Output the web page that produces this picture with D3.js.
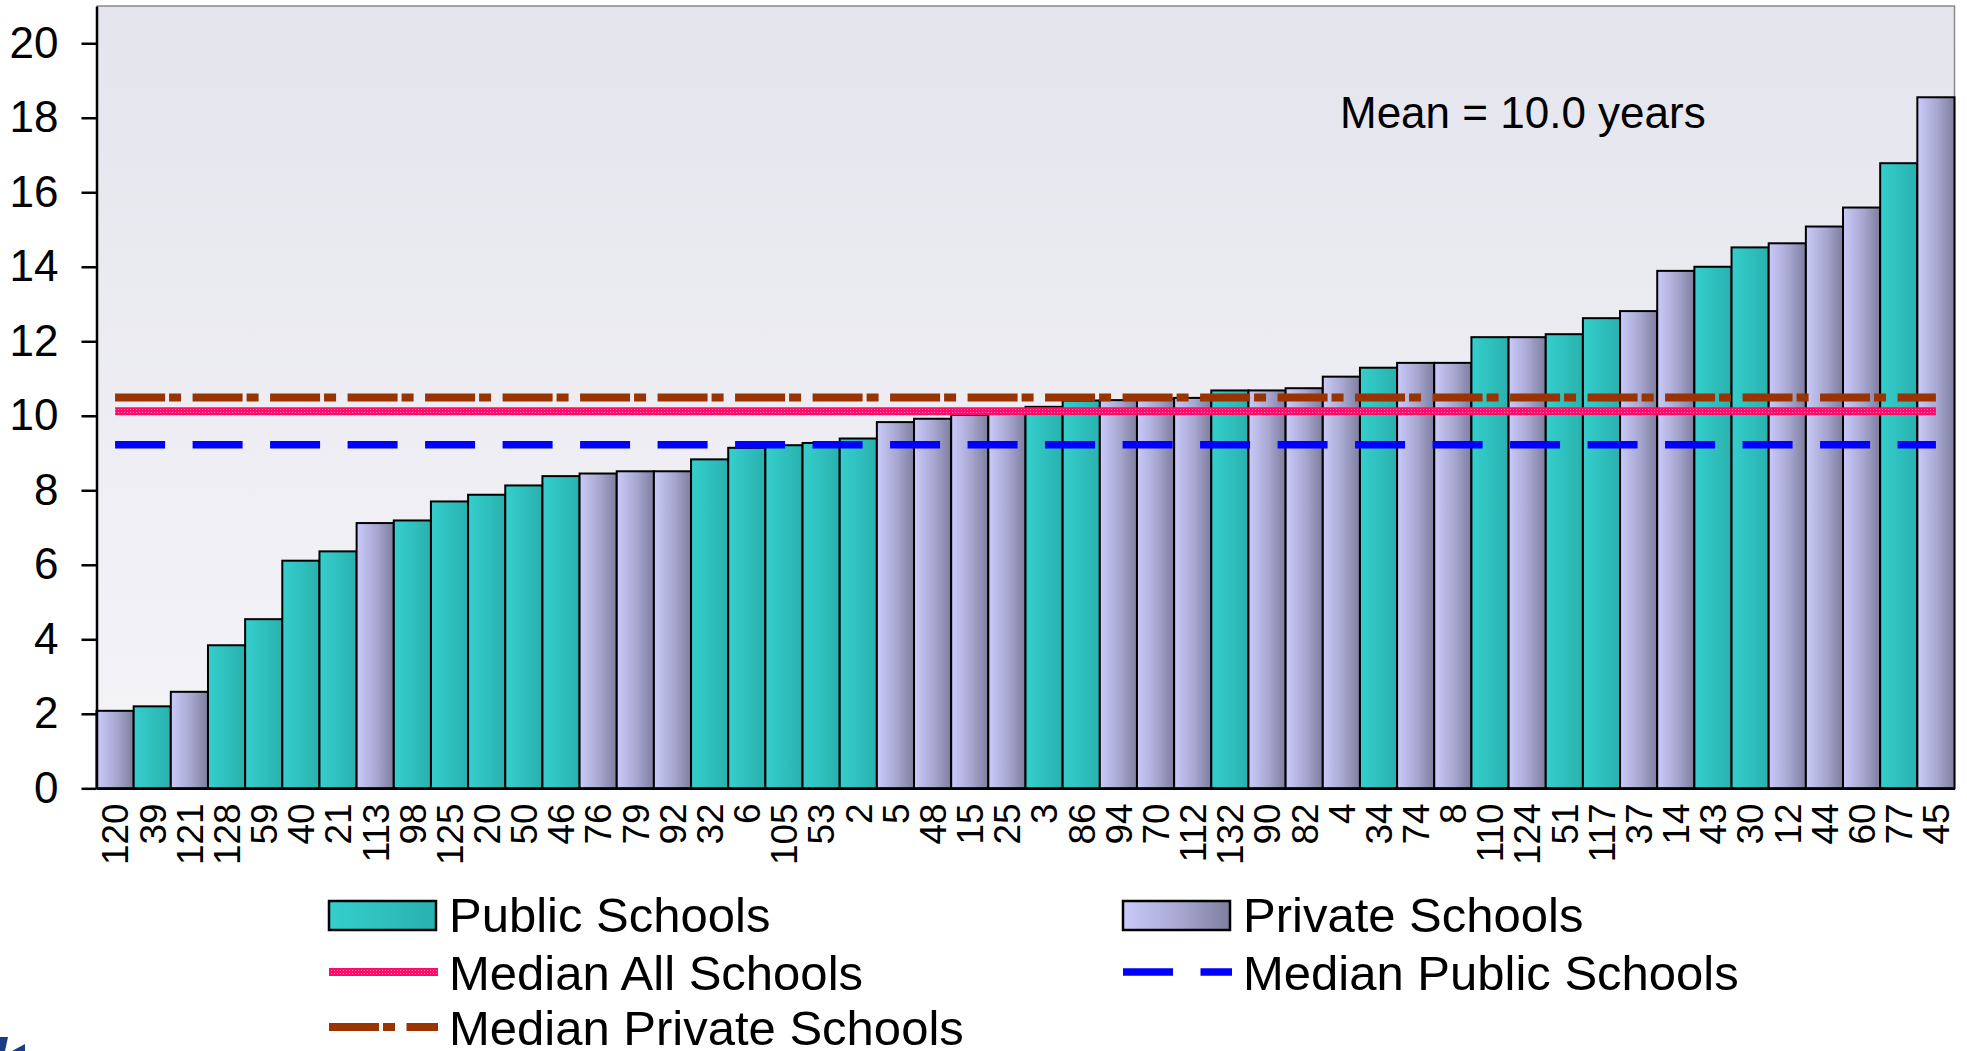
<!DOCTYPE html>
<html>
<head>
<meta charset="utf-8">
<script src="https://cdn.jsdelivr.net/npm/d3@7"></script>
<style>
  html, body { margin: 0; padding: 0; background: #ffffff; }
  svg { display: block; font-family: "Liberation Sans", Arial, Helvetica, sans-serif; }
</style>
</head>
<body>
<svg id="chart" width="1967" height="1051"></svg>
<script>
// School identifiers, ordered by years
const schools = ["120","39","121","128","59","40","21","113","98","125",
                 "20","50","46","76","79","92","32","6","105","53",
                 "2","5","48","15","25","3","86","94","70","112",
                 "132","90","82","4","34","74","8","110","124","51",
                 "117","37","14","43","30","12","44","60","77","45"];
const years = [2.08, 2.20, 2.59, 3.84, 4.54, 6.11, 6.36, 7.12, 7.19, 7.70,
               7.88, 8.13, 8.38, 8.45, 8.51, 8.51, 8.83, 9.14, 9.21, 9.27,
               9.39, 9.83, 9.92, 10.02, 10.12, 10.24, 10.41, 10.42, 10.46, 10.48,
               10.68, 10.68, 10.74, 11.05, 11.29, 11.42, 11.42, 12.11, 12.11, 12.19,
               12.62, 12.81, 13.89, 14.00, 14.52, 14.63, 15.08, 15.59, 16.78, 18.55];
const sector = ["Private","Public","Private","Public","Public","Public","Public","Private","Public","Public",
                "Public","Public","Public","Private","Private","Private","Public","Public","Public","Public",
                "Public","Private","Private","Private","Private","Public","Public","Private","Private","Private",
                "Public","Private","Private","Private","Public","Private","Private","Public","Private","Public",
                "Public","Private","Private","Public","Public","Private","Private","Private","Public","Private"];
const yTicks = [0, 2, 4, 6, 8, 10, 12, 14, 16, 18, 20];

const medianAll = 10.12;
const medianPublic = 9.22;
const medianPrivate = 10.49;
const meanYears = "10.0";

const legendItems = [
  {label: "Public Schools", kind: "Public"},
  {label: "Private Schools", kind: "Private"},
  {label: "Median All Schools", kind: "all"},
  {label: "Median Public Schools", kind: "public"},
  {label: "Median Private Schools", kind: "private"}
];

const svg = d3.select("#chart");
const plot = {left: 96.5, right: 1954.5, top: 6, bottom: 788.3};

const x = d3.scaleBand().domain(schools).range([plot.left, plot.right]).padding(0);
const y = d3.scaleLinear().domain([0, 21]).range([plot.bottom, plot.top]);

const defs = svg.append("defs");
const bg = defs.append("linearGradient").attr("id", "plotBg")
  .attr("x1", 0).attr("y1", 0).attr("x2", 0).attr("y2", 1);
bg.append("stop").attr("offset", "0%").attr("stop-color", "#e4e4ed");
bg.append("stop").attr("offset", "100%").attr("stop-color", "#f5f5f8");

const gPub = defs.append("linearGradient").attr("id", "fillPublic")
  .attr("x1", 0).attr("y1", 0).attr("x2", 1).attr("y2", 0);
gPub.append("stop").attr("offset", "0%").attr("stop-color", "#35cfcd");
gPub.append("stop").attr("offset", "100%").attr("stop-color", "#29b1ae");

const gPriv = defs.append("linearGradient").attr("id", "fillPrivate")
  .attr("x1", 0).attr("y1", 0).attr("x2", 1).attr("y2", 0);
gPriv.append("stop").attr("offset", "0%").attr("stop-color", "#cbcbfb");
gPriv.append("stop").attr("offset", "55%").attr("stop-color", "#a6a6cf");
gPriv.append("stop").attr("offset", "100%").attr("stop-color", "#7e7e9f");

// speckled pink texture for the all-schools median
const pat = defs.append("pattern").attr("id", "pinkTexture")
  .attr("patternUnits", "userSpaceOnUse").attr("width", 3).attr("height", 3);
pat.append("rect").attr("width", 3).attr("height", 3).attr("fill", "#ff0c6a");
pat.append("rect").attr("x", 1).attr("y", 1).attr("width", 1).attr("height", 1).attr("fill", "#ff86b4");

const fillFor = s => s === "Public" ? "url(#fillPublic)" : "url(#fillPrivate)";

// plot area
svg.append("rect")
  .attr("x", plot.left).attr("y", plot.top)
  .attr("width", plot.right - plot.left).attr("height", plot.bottom - plot.top)
  .attr("fill", "url(#plotBg)");
svg.append("path")
  .attr("d", `M${plot.left},${plot.top}H${plot.right}V${plot.bottom}`)
  .attr("fill", "none").attr("stroke", "#8a8a8a").attr("stroke-width", 1.5);

// bars
svg.append("g").selectAll("rect")
  .data(schools.map((s, i) => ({school: s, value: years[i], sector: sector[i]})))
  .join("rect")
  .attr("x", d => x(d.school))
  .attr("y", d => y(d.value))
  .attr("width", x.bandwidth())
  .attr("height", d => y(0) - y(d.value))
  .attr("fill", d => fillFor(d.sector))
  .attr("stroke", "#000")
  .attr("stroke-width", 2);

// median reference lines, from first to last category centre
const xFirst = x(schools[0]) + x.bandwidth() / 2;
const xLast = x(schools[schools.length - 1]) + x.bandwidth() / 2;
const refLine = v => d3.line()([[xFirst, y(v)], [xLast, y(v)]]);

const styleMedian = {
  all:     {stroke: "url(#pinkTexture)", width: 8, dash: null},
  public:  {stroke: "#0000ff", width: 7.5, dash: "50,27.5"},
  private: {stroke: "#993300", width: 8, dash: "50,4,12,11.5"}
};

[["private", medianPrivate], ["all", medianAll], ["public", medianPublic]].forEach(([k, v]) => {
  const st = styleMedian[k];
  svg.append("path")
    .attr("d", refLine(v))
    .attr("fill", "none")
    .attr("stroke", st.stroke)
    .attr("stroke-width", st.width)
    .attr("stroke-dasharray", st.dash);
});

// y axis
const yAxis = svg.append("g")
  .attr("transform", `translate(${plot.left},0)`)
  .call(d3.axisLeft(y).tickValues(yTicks).tickFormat(d3.format("d"))
        .tickSize(15).tickSizeOuter(0).tickPadding(23));
yAxis.select(".domain").attr("stroke", "#000").attr("stroke-width", 2.5);
yAxis.selectAll(".tick line").attr("stroke", "#000").attr("stroke-width", 2.5);
yAxis.selectAll(".tick text")
  .attr("font-size", 44).attr("fill", "#000")
  .attr("font-family", "'Liberation Sans', Arial, sans-serif");

// x axis with rotated school labels
const xAxis = svg.append("g")
  .attr("transform", `translate(0,${plot.bottom})`)
  .call(d3.axisBottom(x).tickSize(0).tickSizeOuter(0));
xAxis.select(".domain").attr("stroke", "#000").attr("stroke-width", 2.5);
xAxis.selectAll(".tick text")
  .attr("transform", "rotate(-90)")
  .attr("x", -15).attr("y", 0).attr("dy", "0.36em")
  .attr("text-anchor", "end")
  .attr("font-size", 37).attr("fill", "#000")
  .attr("font-family", "'Liberation Sans', Arial, sans-serif");

// mean annotation
svg.append("text")
  .attr("x", 1340).attr("y", 128)
  .attr("font-size", 44).attr("fill", "#000")
  .text(`Mean = ${meanYears} years`);

// legend
const legendCols = [329, 1123];
const legendRows = [932, 990, 1045];
const lg = svg.append("g");
legendItems.forEach((item, i) => {
  const cx = legendCols[i % 2];
  const base = legendRows[Math.floor(i / 2)];
  const g = lg.append("g");
  if (item.kind === "Public" || item.kind === "Private") {
    g.append("rect")
      .attr("x", cx).attr("y", base - 31).attr("width", 107).attr("height", 29)
      .attr("fill", fillFor(item.kind)).attr("stroke", "#000").attr("stroke-width", 2.5);
  } else {
    const st = styleMedian[item.kind];
    const ly = base - 18;
    g.append("path")
      .attr("d", d3.line()([[cx, ly], [cx + 109, ly]]))
      .attr("fill", "none")
      .attr("stroke", st.stroke)
      .attr("stroke-width", st.width)
      .attr("stroke-dasharray", st.dash);
  }
  g.append("text")
    .attr("x", cx + 120).attr("y", base)
    .attr("font-size", 49).attr("fill", "#000")
    .text(item.label);
});

// corner emblem fragment
const emblem = svg.append("g").attr("fill", "#1c3d86");
emblem.append("path").attr("d", "M0,1037L8,1037L5,1051L0,1051Z");
emblem.append("path").attr("d", "M12,1051L25,1044L25,1051Z");
</script>
</body>
</html>
